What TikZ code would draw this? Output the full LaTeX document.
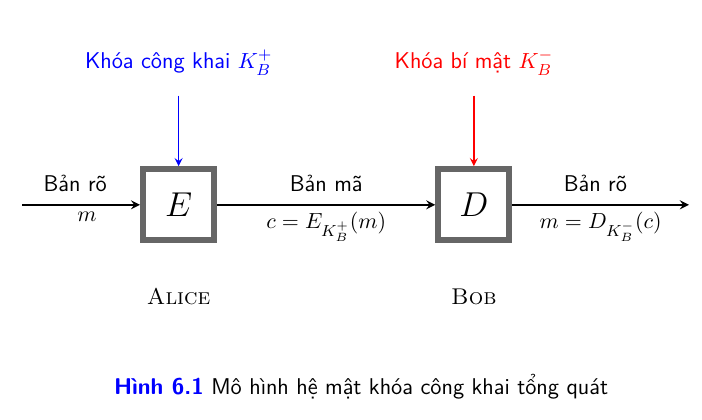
\documentclass[tikz,border=0pt]{standalone}
\usepackage{amsmath}
\usetikzlibrary{positioning}
\newcommand\fsz{\fontsize{11.4}{13.7}\selectfont}
\tikzstyle{every node}=[font=\fsz]
\tikzset{
  box/.style={draw=black!60, line width=3pt, fill=white, minimum size=1.25cm, inner sep=0pt, font=\fontsize{16}{19}\selectfont},
  lbl/.style={font=\fsz\sffamily}
}

\begin{document}
\begin{tikzpicture}[>=stealth]
    \useasboundingbox (-3.14,-3.78) rectangle (9.2,3.6);
    \node[box] (E) at (0,0) {$E$};
    \node[box] (D) at (5.19,0) {$D$};
    \coordinate (in) at (-2.75,0);
    \coordinate (out) at (8.97,0);
    \node[lbl,blue] (pub) at (0,2.5) {Khóa công khai $K_B^+$};
    \node[lbl,red] (priv) at (5.19,2.5) {Khóa bí mật $K_B^-$};
    \coordinate (pubin) at (0,1.92);
    \coordinate (privin) at (5.19,1.92);
    \draw[line width=1pt,->] (in) --node[lbl,above=2.5pt,pos=0.45]{Bản rõ} node[below,pos=0.55]{$m$} (E);
    \draw[line width=1pt,->] (E) --node[lbl,above=2.5pt]{Bản mã} node[below]{$c=E_{K_B^+}(m)$} (D);
    \draw[line width=1pt,->] (D) --node[lbl,above=2.5pt,pos=0.47]{Bản rõ} node[below]{$m=D_{K_B^-}(c)$} (out);
    \draw[thick,blue,->] (pubin) -- (E);
    \draw[thick,red,->] (privin) -- (D);
    \node[anchor=base] (alice) at (0,-1.76) {\textsc{Alice}};
    \node[anchor=base] (bob) at (5.19,-1.76) {\textsc{Bob}};
    % chu thich hinh
    \node[lbl,anchor=base west] (cap) at (-1.26,-3.34) {\textcolor{blue}{\bfseries Hình 6.1} Mô hình hệ mật khóa công khai tổng quát};
\end{tikzpicture}
\end{document}
